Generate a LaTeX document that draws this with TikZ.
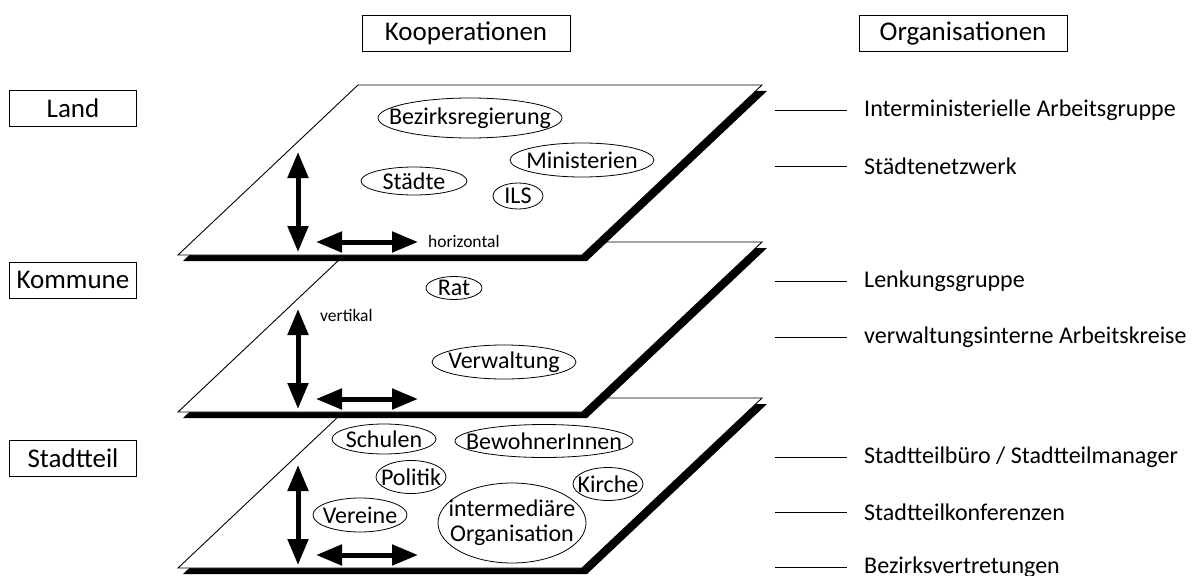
\documentclass[tikz,border=0pt]{standalone}
\usepackage{fontspec}
\setmainfont{Carlito}
\usetikzlibrary{arrows.meta}

\begin{document}
\begin{tikzpicture}[x=1pt, y=-1pt,
  ebene/.style={fill=white, draw=black, line width=0.9pt},
  akteur/.style={inner sep=0pt, align=center, font=\fontsize{24}{25}\selectfont},
  rand/.style={line width=0.8pt},
  kopf/.style={draw, rectangle, line width=0.9pt, minimum height=36pt,
    font=\fontsize{27}{28}\selectfont},
  ebenenname/.style={kopf, minimum width=127pt},
  spalte/.style={kopf, minimum width=208pt},
  orgtext/.style={anchor=west, inner sep=2pt, font=\fontsize{24}{25}\selectfont},
  klein/.style={anchor=west, inner sep=1pt, font=\fontsize{17.5}{18}\selectfont},
  doppelpfeil/.style={{Triangle[length=26pt,width=20pt]}-{Triangle[length=26pt,width=20pt]}, line width=5pt}]
  \useasboundingbox (0,0) rectangle (1198,575);

  % Spaltenkoepfe
  \node[spalte] (koop) at (466,33) {Kooperationen};
  \node[spalte] (orga) at (963,33) {Organisationen};

  % Ebenen (von unten nach oben), mit Schatten
  \foreach \y in {398,242,85} {
    \fill[black] (363,\y+6) -- ++(404,0) -- ++(-180,170) -- ++(-404,0) -- cycle;
    \draw[ebene] (358,\y) -- ++(404,0) -- ++(-180,170) -- ++(-404,0) -- cycle;
    \draw[doppelpfeil] (298,\y+67) -- (298,\y+167);
    \draw[doppelpfeil] (316,\y+157) -- (418,\y+157);
  }
  \node[klein] (horiz) at (427,241) {horizontal};
  \node[klein] (vert) at (319,315) {vertikal};

  % Ebenennamen
  \node[ebenenname] (land) at (73,108) {Land};
  \node[ebenenname] (kommune) at (73,280) {Kommune};
  \node[ebenenname] (stadtteil) at (73,458) {Stadtteil};

  % Akteure
  \foreach \name/\px/\py/\rx/\ry/\txt in {
      bezreg/470/118/92/20/Bezirksregierung,
      minist/582/160/72/17/Ministerien,
      staedte/414/181/53/14/Städte,
      ils/518/196/25/13/ILS,
      rat/454/288/28/11.5/Rat,
      verw/504/362/72/17/Verwaltung,
      schulen/384/439/52/15/Schulen,
      bewohner/544/441/89/16.5/BewohnerInnen,
      politik/411/477/35/16.5/Politik,
      kirche/608/484/35/16.5/Kirche,
      vereine/360/515/47/17/Vereine,
      intermed/512/523/74/40/intermediäre\\Organisation} {
    \node[akteur] (\name) at (\px,\py) {\txt};
    \draw[rand] (\name.center) ellipse [x radius=\rx pt, y radius=\ry pt];
  }

  % Organisationen rechts
  \foreach \y/\name/\txt in {110/o1/Interministerielle Arbeitsgruppe,
      166/o2/Städtenetzwerk, 281/o3/Lenkungsgruppe,
      337/o4/verwaltungsinterne Arbeitskreise,
      457/o5/{Stadtteilbüro / Stadtteilmanager},
      512/o6/Stadtteilkonferenzen, 567/o7/Bezirksvertretungen} {
    \node[orgtext] (\name) at (862,\y) {\txt};
    \draw[line width=0.9pt] ([xshift=-15pt]\name.west) -- ++(-72,0);
  }
\end{tikzpicture}
\end{document}
